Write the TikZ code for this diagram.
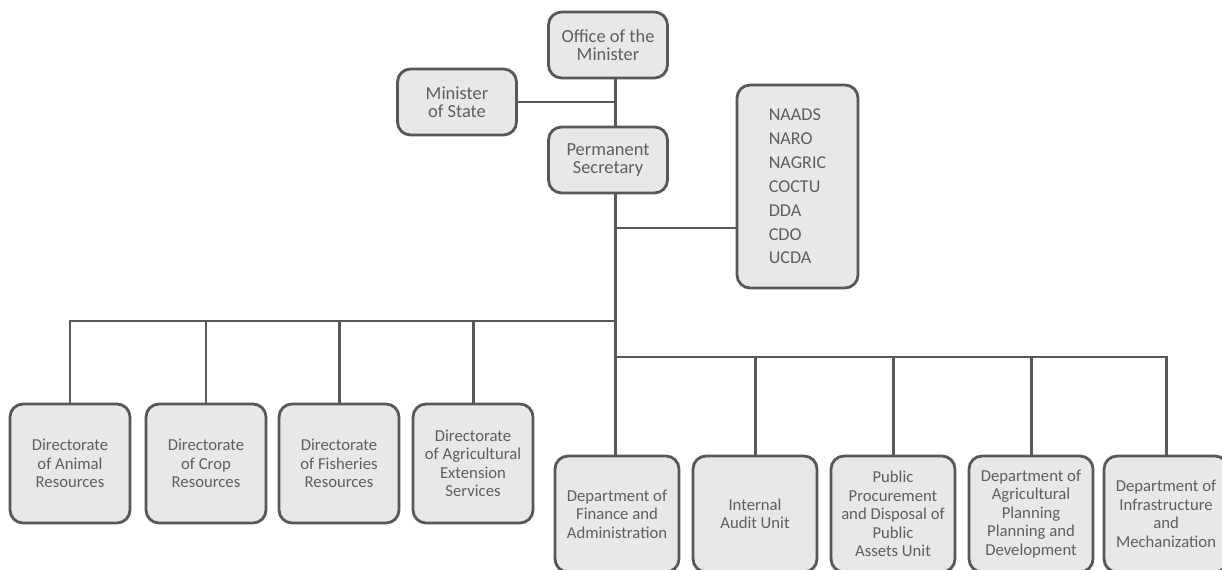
\documentclass[tikz,border=0pt]{standalone}
\usepackage{fontspec}
\setmainfont{Carlito}
\usetikzlibrary{positioning, calc, backgrounds}
\definecolor{lineGray}{RGB}{88, 88, 88}
\definecolor{textGray}{RGB}{95, 95, 95}
\definecolor{boxFill}{RGB}{232, 232, 232}

\begin{document}
\begin{tikzpicture}[
    x=0.02cm, y=-0.02cm,
    unit/.style={rectangle, draw=lineGray, fill=boxFill, text=textGray, rounded corners=0.26cm, line width=1.6pt, align=center, inner sep=2pt},
    top/.style={unit, minimum width=2.38cm, minimum height=1.32cm, font=\fontsize{10.5}{10}\selectfont},
    lower/.style={unit, minimum width=2.4cm, minimum height=2.38cm, font=\fontsize{9.5}{10.5}\selectfont},
    dept/.style={lower, minimum width=2.48cm, minimum height=2.32cm},
    link/.style={draw=lineGray, line width=1.7pt}
  ]
    \useasboundingbox (0,0) rectangle (1222,570);
    \clip (0,0) rectangle (1222,570);

    % Head of the ministry
    \node[top] (office) at (608,45) {Office of the\\Minister};
    \node[top] (mos) at (457,102) {Minister\\of State};
    \node[top] (ps) at (608,160) {Permanent\\Secretary};
    \node[unit, minimum width=2.42cm, minimum height=4.06cm, align=left, font=\fontsize{10.3}{13.6}\selectfont] (agencies) at (797.5,186.5) {NAADS\\NARO\\NAGRIC\\COCTU\\DDA\\CDO\\UCDA};

    % Directorates
    \node[lower] (animal) at (70,463.5) {Directorate\\of Animal\\Resources};
    \node[lower] (crop) at (206,463.5) {Directorate\\of Crop\\Resources};
    \node[lower] (fish) at (339,463.5) {Directorate\\of Fisheries\\Resources};
    \node[lower] (ext) at (473,463.5) {Directorate\\of Agricultural\\Extension\\Services};

    % Departments and units
    \node[dept] (finance) at (617,514) {Department of\\Finance and\\Administration};
    \node[dept] (audit) at (755,514) {Internal\\Audit Unit};
    \node[dept] (procure) at (893,514) {Public\\Procurement\\and Disposal of\\Public\\Assets Unit};
    \node[dept] (planning) at (1031,514) {Department of\\Agricultural\\Planning\\Planning and\\Development};
    \node[dept] (infra) at (1166,514) {Department of\\Infrastructure\\and\\Mechanization};

    % Spine and buses, kept behind the boxes
    \begin{scope}[on background layer]
      \coordinate (sp) at (615,0);
      \coordinate (busL) at (615,321);
      \coordinate (busR) at (615,357);
      \draw[link] (office.south -| sp) -- (finance.north -| sp);
      \draw[link] (mos.east) -- (mos.east -| sp);
      \draw[link] (sp |- 0,228) -- (agencies.west |- 0,228);
      \foreach \n in {animal, crop, fish, ext}
        \draw[link] (busL) -| (\n.north);
      \foreach \n in {audit, procure, planning, infra}
        \draw[link] (busR) -| (\n.north);
    \end{scope}
  \end{tikzpicture}
\end{document}
